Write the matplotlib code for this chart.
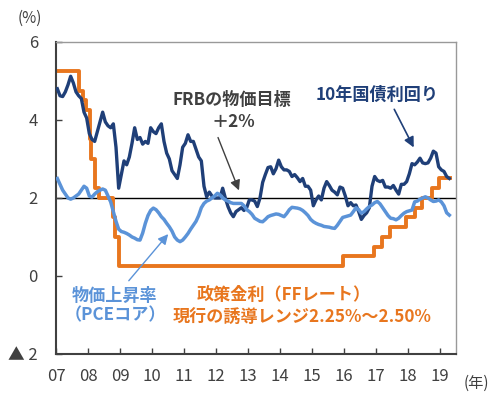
import numpy as np
import matplotlib
matplotlib.use("Agg")
import matplotlib.pyplot as plt

plt.rcParams['font.family'] = ['Noto Sans CJK JP', 'DejaVu Sans']

# 10年国債利回り (monthly, Jan 2007 - Apr 2019)
ust10 = [4.80, 4.62, 4.60, 4.72, 4.90, 5.12, 4.95, 4.72, 4.62, 4.55, 4.20, 4.05,
         3.65, 3.50, 3.45, 3.70, 3.95, 4.20, 3.95, 3.85, 3.80, 3.90, 3.30, 2.25,
         2.60, 2.95, 2.85, 3.05, 3.40, 3.80, 3.50, 3.55, 3.38, 3.45, 3.40, 3.80,
         3.70, 3.65, 3.80, 3.90, 3.45, 3.15, 3.00, 2.70, 2.60, 2.50, 2.85, 3.30,
         3.40, 3.62, 3.45, 3.45, 3.25, 3.05, 2.95, 2.30, 2.03, 2.15, 2.05, 2.00,
         2.00, 2.00, 2.25, 2.00, 1.78, 1.62, 1.52, 1.65, 1.70, 1.75, 1.68, 1.75,
         1.95, 1.95, 1.92, 1.78, 2.00, 2.40, 2.60, 2.78, 2.80, 2.62, 2.75, 2.97,
         2.80, 2.72, 2.72, 2.68, 2.55, 2.60, 2.52, 2.42, 2.50, 2.30, 2.30, 2.20,
         1.80, 1.95, 2.05, 1.95, 2.25, 2.42, 2.32, 2.20, 2.15, 2.08, 2.28, 2.25,
         2.05, 1.80, 1.88, 1.80, 1.82, 1.65, 1.45, 1.55, 1.62, 1.75, 2.30, 2.55,
         2.45, 2.42, 2.45, 2.28, 2.28, 2.25, 2.32, 2.20, 2.10, 2.35, 2.35, 2.42,
         2.62, 2.88, 2.85, 2.92, 3.02, 2.90, 2.88, 2.90, 3.02, 3.20, 3.15, 2.80,
         2.72, 2.68, 2.55, 2.50]

# 物価上昇率 (PCEコア, 前年比, monthly)
pce_core = [2.50, 2.35, 2.20, 2.10, 2.00, 1.97, 2.00, 2.05, 2.10, 2.20, 2.30, 2.25,
            2.05, 2.02, 2.10, 2.16, 2.20, 2.23, 2.20, 2.05, 1.90, 1.65, 1.40, 1.20,
            1.14, 1.12, 1.09, 1.05, 1.00, 0.97, 0.93, 0.92, 1.10, 1.35, 1.55, 1.68,
            1.74, 1.70, 1.62, 1.52, 1.45, 1.35, 1.26, 1.15, 1.00, 0.92, 0.88, 0.92,
            1.00, 1.09, 1.20, 1.30, 1.40, 1.55, 1.75, 1.86, 1.92, 1.95, 2.00, 2.05,
            2.12, 2.08, 2.00, 1.95, 1.92, 1.88, 1.86, 1.86, 1.86, 1.86, 1.80, 1.70,
            1.65, 1.58, 1.48, 1.44, 1.40, 1.39, 1.45, 1.52, 1.55, 1.57, 1.59, 1.58,
            1.55, 1.52, 1.60, 1.70, 1.76, 1.75, 1.74, 1.72, 1.68, 1.62, 1.55, 1.45,
            1.39, 1.35, 1.32, 1.30, 1.27, 1.26, 1.25, 1.23, 1.22, 1.30, 1.40, 1.50,
            1.52, 1.54, 1.56, 1.65, 1.75, 1.70, 1.61, 1.65, 1.72, 1.78, 1.82, 1.88,
            1.91, 1.85, 1.75, 1.65, 1.55, 1.48, 1.47, 1.44, 1.48, 1.55, 1.61, 1.65,
            1.67, 1.69, 1.90, 1.92, 1.97, 2.00, 2.03, 2.00, 1.95, 1.91, 1.92, 1.95,
            1.90, 1.80, 1.62, 1.56]

# 政策金利 (FFレート誘導目標上限): change dates (decimal year) and levels
ff_dates = [2007.00, 2007.71, 2007.83, 2007.94, 2008.06, 2008.08, 2008.21, 2008.33,
            2008.77, 2008.83, 2008.96, 2015.96, 2016.95, 2017.20, 2017.45, 2017.95,
            2018.22, 2018.45, 2018.74, 2018.97, 2019.31]
ff_rates = [5.25, 4.75, 4.50, 4.25, 3.50, 3.00, 2.25, 2.00,
            1.50, 1.00, 0.25, 0.50, 0.75, 1.00, 1.25, 1.50,
            1.75, 2.00, 2.25, 2.50, 2.50]

years = list(range(2007, 2020))
year_labels = ["%02d" % (y % 100) for y in years]
yticks = [-2, 0, 2, 4, 6]
ytick_labels = ["▲ 2", "0", "2", "4", "6"]

navy = "#1f3f78"
light = "#5b93d8"
orange = "#e8761e"
gray = "#404040"

months = 2007 + (np.arange(len(ust10)) + 0.5) / 12.0

fig = plt.figure(figsize=(5, 3.98), dpi=100)
ax = fig.add_axes([0.112, 0.1106, 0.8, 0.784])

ax.axhline(2, color="black", lw=1.0, zorder=1.5)
ax.step(ff_dates, ff_rates, where="post", color=orange, lw=2.8, zorder=2)
ax.plot(months, ust10, color=navy, lw=2.4, zorder=3)
ax.plot(months, pce_core, color=light, lw=2.5, zorder=4)

ax.set_xlim(2007, 2019.5)
ax.set_ylim(-2, 6)
ax.set_xticks(years)
ax.set_xticklabels(year_labels)
ax.set_yticks(yticks)
ax.set_yticklabels(ytick_labels)
ax.tick_params(axis="both", direction="in", length=4, width=1, colors=gray,
               labelsize=12, labelcolor=gray)
ax.tick_params(axis="x", pad=10)
ax.tick_params(axis="y", pad=13)

for side in ["left", "bottom"]:
    ax.spines[side].set_color(gray)
    ax.spines[side].set_linewidth(1.5)
for side in ["top", "right"]:
    ax.spines[side].set_color("#999999")
    ax.spines[side].set_linewidth(1.0)

fig.text(0.06, 0.955, "(%)", ha="center", va="center", fontsize=11, color=gray)
fig.text(0.953, 0.038, "(年)", ha="center", va="center", fontsize=11, color=gray)

# annotations
fs = 12.3
ax.text(0.44, 0.814, "FRBの物価目標", transform=ax.transAxes, ha="center", va="center",
        fontsize=fs, fontweight="bold", color=gray)
ax.text(0.4425, 0.744, "＋2%", transform=ax.transAxes, ha="center", va="center",
        fontsize=fs, fontweight="bold", color=gray)
ax.annotate("", xy=(0.46, 0.516), xytext=(0.4025, 0.702), xycoords="axes fraction",
            arrowprops=dict(arrowstyle="-|>", color=gray, lw=1.0, mutation_scale=15))

ax.text(0.8025, 0.830, "10年国債利回り", transform=ax.transAxes, ha="center", va="center",
        fontsize=fs, fontweight="bold", color=navy)
ax.annotate("", xy=(0.8975, 0.654), xytext=(0.8425, 0.792), xycoords="axes fraction",
            arrowprops=dict(arrowstyle="-|>", color=navy, lw=1.2, mutation_scale=15))

ax.text(0.1475, 0.186, "物価上昇率", transform=ax.transAxes, ha="center", va="center",
        fontsize=fs, fontweight="bold", color=light)
ax.text(0.1475, 0.125, "（PCEコア）", transform=ax.transAxes, ha="center", va="center",
        fontsize=fs, fontweight="bold", color=light)
ax.annotate("", xy=(0.285, 0.391), xytext=(0.1775, 0.228), xycoords="axes fraction",
            arrowprops=dict(arrowstyle="-|>", color=light, lw=1.0, mutation_scale=15))

ax.text(0.3525, 0.189, "政策金利（FFレート）", transform=ax.transAxes, ha="left", va="center",
        fontsize=fs, fontweight="bold", color=orange)
ax.text(0.2925, 0.115, "現行の誘導レンジ2.25%～2.50%", transform=ax.transAxes, ha="left",
        va="center", fontsize=fs, fontweight="bold", color=orange)

fig.savefig("out.png", dpi=100)
